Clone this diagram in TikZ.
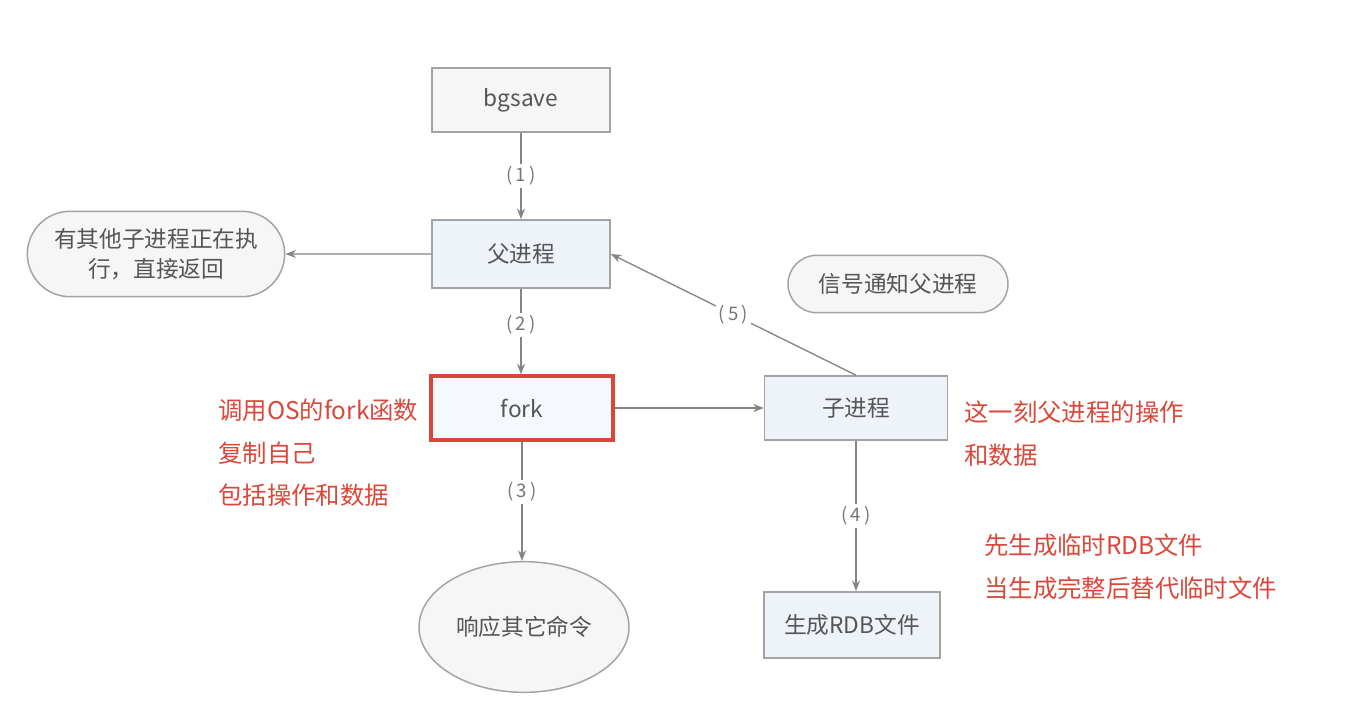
\documentclass[tikz,border=0pt]{standalone}
\usepackage{fontspec}
\setmainfont{Noto Sans CJK SC}
\usetikzlibrary{shapes.misc,shapes.geometric,arrows.meta}
\definecolor{edge}{HTML}{858585}
\definecolor{boxline}{HTML}{A3A3A3}
\definecolor{bluefill}{HTML}{EEF3FA}
\definecolor{grayfill}{HTML}{F6F6F6}
\definecolor{forkred}{HTML}{D9473A}
\definecolor{redtxt}{HTML}{D9483B}
\definecolor{txt}{HTML}{555555}
\definecolor{labtxt}{HTML}{777777}
\newcommand{\steplab}[1]{(\hspace{2.5pt}#1\hspace{2.5pt})}
\begin{document}
\begin{tikzpicture}[x=0.75pt,y=-0.75pt,
  box/.style={draw=boxline, line width=1.2pt, fill=bluefill, text=txt, font=\fontsize{17}{20}\selectfont, inner sep=0pt},
  pill/.style={rounded rectangle, draw=boxline, line width=1.1pt, fill=grayfill, text=txt, font=\fontsize{17}{22.5}\selectfont, inner sep=0pt},
  arr/.style={draw=edge, line width=1pt, -{Stealth[length=8pt,width=6pt]}},
  lab/.style={fill=white, text=labtxt, font=\fontsize{14}{16}\selectfont, inner sep=2pt},
  note/.style={text=redtxt, font=\fontsize{18.3}{32}\selectfont, align=left, anchor=west, inner sep=0pt}]
\useasboundingbox (0,0) rectangle (1348,724);
\fill[white] (0,0) rectangle (1348,724);

\node[box, fill=grayfill, minimum width=133.5pt, minimum height=48pt] (bg) at (521,100) {bgsave};
\node[box, minimum width=133.5pt, minimum height=51pt] (fu) at (521,254) {父进程};
\node[box, draw=forkred, line width=2.4pt, fill=bluefill!60!white, minimum width=136.5pt, minimum height=48pt] (fork) at (522,408) {fork};
\node[box, minimum width=137pt, minimum height=48pt] (zi) at (856,408) {子进程};
\node[box, minimum width=132pt, minimum height=49.5pt] (rdb) at (852,625) {生成RDB文件};
\node[pill, minimum width=193pt, minimum height=64pt, align=center] (busy) at (156,254) {有其他子进程正在执\\行，直接返回};
\node[pill, minimum width=165pt, minimum height=43pt] (sig) at (898,284) {信号通知父进程};
\node[ellipse, draw=boxline, line width=1.1pt, fill=grayfill, text=txt, font=\fontsize{17}{20}\selectfont, inner sep=0pt, minimum width=157.5pt, minimum height=98pt] (resp) at (524,627) {响应其它命令};

\draw[arr] (bg) -- node[lab]{\steplab{1}} (fu);
\draw[arr] (fu.south) -- node[lab, pos=0.42]{\steplab{2}} (fu.south |- fork.north);
\draw[arr] (fork.south) -- node[lab, pos=0.42]{\steplab{3}} (fork.south |- resp.north);
\draw[arr] (fork) -- (zi);
\draw[arr] (zi.south) -- node[lab, pos=0.5]{\steplab{4}} (zi.south |- rdb.north);
\draw[arr] (zi.north) -- node[lab]{\steplab{5}} (fu.east);
\draw[arr] (fu) -- (busy);

\node[note] (n1) at (218,453) {调用OS的fork函数\\复制自己\\包括操作和数据};
\node[note] (n2) at (964,434) {这一刻父进程的操作\\和数据};
\node[note] (n3) at (984,567) {先生成临时RDB文件\\当生成完整后替代临时文件};
\end{tikzpicture}
\end{document}
